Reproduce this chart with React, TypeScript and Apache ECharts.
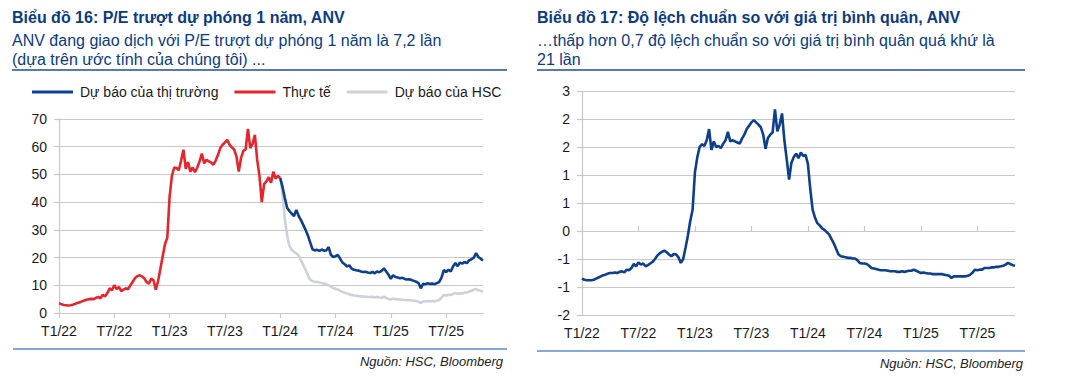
import React, { useEffect, useRef } from "react";
import * as echarts from "echarts";

// ---------- data ----------
const STEP = 0.25; // months between samples, month 0 = Jan 2022
const xTickMonths = [0, 6, 12, 18, 24, 30, 36, 42];
const xTickLabels = ["T1/22", "T7/22", "T1/23", "T7/23", "T1/24", "T7/24", "T1/25", "T7/25"];

const seriesNames = ["Dự báo của thị trường", "Thực tế", "Dự báo của HSC"];

const actualStart = 0;
const actualPE = [
  3.5, 3.2, 2.9, 2.8, 2.7, 2.8, 3.0, 3.3, 3.6, 3.9, 4.2, 4.5, 4.8, 5.0, 5.1, 5.0,
  5.4, 5.8, 5.3, 6.6, 6.0, 7.2, 8.9, 8.2, 10.1, 8.6, 9.4, 7.9, 8.4, 8.9, 8.6, 10.0,
  11.3, 12.6, 13.3, 13.6, 13.2, 12.5, 11.2, 10.6, 12.4, 11.8, 8.4, 11.5, 16.0, 20.5, 24.8, 27.2,
  42.0, 49.5, 52.5, 52.3, 51.5, 55.0, 58.9, 52.0, 54.5, 51.0, 52.5, 50.8, 52.5, 54.7, 57.5, 54.0,
  55.3, 54.7, 54.3, 53.5, 55.0, 57.1, 59.5, 60.7, 61.5, 62.5, 60.7, 59.8, 59.0, 56.5, 51.0, 56.0,
  58.5, 59.0, 66.4, 59.5, 61.0, 64.3, 55.3, 49.5, 40.0, 46.5, 47.5, 49.0, 47.0, 51.0, 48.5, 49.5,
  48.7,
];

const marketStart = 24;
const marketPE = [
  48.7, 45.5, 41.5, 38.0, 36.8, 35.8, 35.0, 37.2, 35.0, 33.5, 31.8, 30.0, 28.0, 25.5, 23.0, 22.6,
  22.8, 22.4, 22.9, 22.5, 22.6, 23.8, 21.0, 20.2, 20.5, 21.0, 19.6, 18.2, 17.6, 16.8, 17.2, 16.0,
  15.6, 15.4, 15.3, 15.0, 14.8, 14.9, 14.6, 14.4, 14.8, 14.3, 15.0, 14.7, 15.2, 16.1, 15.0, 13.8,
  12.3, 13.6, 13.0, 12.8, 12.5, 12.7, 12.3, 12.1, 12.2, 11.9, 11.6, 11.3, 10.8, 8.9, 10.5, 10.4,
  10.7, 10.5, 10.6, 10.4, 10.8, 11.2, 12.8, 15.5, 14.8, 15.6, 15.0, 16.8, 18.0, 16.9, 18.2, 17.8,
  18.4, 18.0, 19.0, 19.4, 20.0, 21.6, 20.2, 19.6, 18.9,
];

const hscStart = 24;
const hscPE = [
  48.7, 43.0, 34.0, 28.0, 24.2, 22.8, 22.0, 21.5, 20.8, 19.0, 17.3, 15.6, 13.6, 12.0, 11.5, 11.2,
  11.3, 11.0, 10.8, 10.6, 10.5, 10.0, 9.5, 9.0, 8.7, 8.5, 8.0, 7.6, 7.3, 7.0, 6.8, 6.5,
  6.3, 6.2, 6.1, 6.0, 5.9, 5.9, 5.8, 5.8, 5.9, 5.7, 5.8, 5.6, 5.5, 5.9, 5.4, 5.1,
  4.8, 5.2, 5.0, 4.9, 4.9, 4.8, 4.7, 4.6, 4.6, 4.5, 4.4, 4.3, 4.1, 3.6, 4.2, 4.2,
  4.3, 4.2, 4.3, 4.2, 4.4, 4.7, 5.5, 6.5, 6.3, 6.6, 6.5, 6.9, 7.2, 6.9, 7.1, 7.0,
  7.4, 7.4, 7.8, 8.0, 8.4, 8.7, 8.2, 8.0, 7.7,
];

const sdStart = 0;
const stdDev = [
  -0.85, -0.87, -0.88, -0.88, -0.88, -0.87, -0.85, -0.83, -0.81, -0.79, -0.78, -0.76, -0.75, -0.75, -0.74, -0.75,
  -0.73, -0.72, -0.74, -0.69, -0.70, -0.66, -0.59, -0.63, -0.56, -0.60, -0.58, -0.63, -0.61, -0.58, -0.55, -0.50,
  -0.44, -0.40, -0.37, -0.35, -0.38, -0.42, -0.45, -0.41, -0.42, -0.47, -0.57, -0.50, -0.30, -0.08, 0.18, 0.38,
  1.05, 1.32, 1.50, 1.55, 1.52, 1.62, 1.82, 1.45, 1.60, 1.50, 1.52, 1.48, 1.56, 1.62, 1.77, 1.60,
  1.62, 1.60, 1.58, 1.56, 1.65, 1.72, 1.82, 1.88, 1.94, 1.98, 1.94, 1.90, 1.85, 1.72, 1.47, 1.66,
  1.72, 1.76, 2.17, 1.78, 1.90, 2.10, 1.62, 1.28, 0.92, 1.22, 1.32, 1.38, 1.30, 1.40, 1.34, 1.36,
  1.20, 0.75, 0.38, 0.24, 0.14, 0.10, 0.05, 0.02, -0.02, -0.06, -0.14, -0.22, -0.32, -0.42, -0.45, -0.46,
  -0.47, -0.48, -0.48, -0.49, -0.49, -0.52, -0.57, -0.58, -0.58, -0.59, -0.62, -0.66, -0.67, -0.68, -0.69, -0.70,
  -0.70, -0.70, -0.71, -0.72, -0.72, -0.72, -0.73, -0.73, -0.72, -0.73, -0.72, -0.71, -0.71, -0.69, -0.71, -0.73,
  -0.75, -0.74, -0.75, -0.76, -0.76, -0.77, -0.77, -0.77, -0.77, -0.77, -0.78, -0.79, -0.80, -0.84, -0.81, -0.81,
  -0.81, -0.81, -0.81, -0.81, -0.80, -0.78, -0.74, -0.69, -0.70, -0.69, -0.69, -0.66, -0.66, -0.66, -0.65, -0.65,
  -0.64, -0.64, -0.63, -0.62, -0.60, -0.57, -0.59, -0.61, -0.62,
];

// ---------- styles ----------
const FONT = "'Liberation Sans', Arial, sans-serif";
const NAVY = "#0b3b80";
const BLUE = "#0d3f8c";
const RED = "#e5252d";
const GREY = "#cdd1d9";
const GRID = "#c8c8c8";
const LABEL = "#1a1a1a";

const build = (start: number, vals: number[]) => vals.map((v, i) => [start + i * STEP, v]);

const excelRound = (v: number) => {
  const r = Math.sign(v) * Math.round(Math.abs(v) + 1e-9);
  return r === 0 ? "0" : String(r);
};

const tickLabel = (v: number) => {
  const i = xTickMonths.indexOf(Math.round(v * 100) / 100);
  return i >= 0 ? xTickLabels[i] : "";
};

const textEl = (x: number, y: number, text: string, font: string, fill: string, align = "left") => ({
  type: "text",
  x,
  y,
  style: { text, font, fill, textAlign: align, textVerticalAlign: "middle" },
});

const lineEl = (x1: number, y1: number, x2: number, y2: number, stroke: string) => ({
  type: "line",
  shape: { x1, y1, x2, y2 },
  style: { stroke, lineWidth: 1.5 },
});

export default function App() {
  const ref = useRef<HTMLDivElement>(null);

  useEffect(() => {
    document.body.style.margin = "0";
    const chart = echarts.init(ref.current!, undefined, { renderer: "svg" });

    const xCommon = (gridIndex: number) => ({
      type: "value",
      gridIndex,
      min: 0,
      max: 46,
      interval: 6,
      splitLine: { show: false },
      axisLine: { show: true, onZero: true, lineStyle: { color: GRID, width: 1.2 } },
      axisTick: { show: true, length: 5, customValues: xTickMonths, lineStyle: { color: GRID, width: 1.2 } },
      axisLabel: {
        show: true,
        customValues: xTickMonths,
        formatter: tickLabel,
        color: LABEL,
        fontSize: 14,
        fontFamily: FONT,
        margin: 11,
      },
    });

    const yCommon = (gridIndex: number) => ({
      type: "value",
      gridIndex,
      axisLine: { show: true, lineStyle: { color: GRID, width: 1.2 } },
      axisTick: { show: true, length: 5, lineStyle: { color: GRID, width: 1.2 } },
      splitLine: { show: true, lineStyle: { color: GRID, width: 1.2 } },
      axisLabel: { color: LABEL, fontSize: 14, fontFamily: FONT, margin: 12 },
    });

    const lineSeries = (name: string, data: number[][], color: string, xAxisIndex: number, yAxisIndex: number, z: number) => ({
      type: "line",
      name,
      data,
      xAxisIndex,
      yAxisIndex,
      symbol: "none",
      showSymbol: false,
      z,
      lineStyle: { color, width: 2.6 },
      itemStyle: { color },
    });

    const rightLabelsAxis = {
      ...xCommon(1),
      axisLine: { show: false, onZero: false },
      axisTick: { show: false },
    };
    const rightZeroAxis = {
      ...xCommon(1),
      axisLabel: { show: false },
    };

    chart.setOption({
      animation: false,
      backgroundColor: "#ffffff",
      textStyle: { fontFamily: FONT },
      legend: {
        left: 27,
        top: 80,
        icon: "rect",
        itemWidth: 41,
        itemHeight: 3,
        itemGap: 16,
        data: seriesNames,
        textStyle: { color: LABEL, fontSize: 14, fontFamily: FONT, padding: [0, 0, 0, 2] },
      },
      grid: [
        { left: 59, top: 119, width: 424, height: 194 },
        { left: 582, top: 91, width: 433, height: 224 },
      ],
      xAxis: [xCommon(0), rightLabelsAxis, rightZeroAxis],
      yAxis: [
        { ...yCommon(0), min: 0, max: 70, interval: 10 },
        {
          ...yCommon(1),
          min: -1.5,
          max: 2.5,
          interval: 0.5,
          axisLabel: { ...yCommon(1).axisLabel, formatter: (v: number) => excelRound(v) },
        },
      ],
      series: [
        lineSeries(seriesNames[0], build(marketStart, marketPE), BLUE, 0, 0, 4),
        lineSeries(seriesNames[1], build(actualStart, actualPE), RED, 0, 0, 3),
        lineSeries(seriesNames[2], build(hscStart, hscPE), GREY, 0, 0, 2),
        lineSeries("Độ lệch chuẩn", build(sdStart, stdDev), BLUE, 2, 1, 4),
      ],
      graphic: [
        textEl(12, 17, "Biểu đồ 16: P/E trượt dự phóng 1 năm, ANV", `bold 16px ${FONT}`, NAVY),
        textEl(12, 40, "ANV đang giao dịch với P/E trượt dự phóng 1 năm là 7,2 lần", `16px ${FONT}`, NAVY),
        textEl(12, 59, "(dựa trên ước tính của chúng tôi) ...", `16px ${FONT}`, NAVY),
        lineEl(12, 70, 507, 70, "#1f4f94"),
        lineEl(13, 349, 507, 349, "#5b8cc8"),
        textEl(503, 361, "Nguồn: HSC, Bloomberg", `italic 13px ${FONT}`, "#222222", "right"),

        textEl(537, 17, "Biểu đồ 17: Độ lệch chuẩn so với giá trị bình quân, ANV", `bold 16px ${FONT}`, NAVY),
        textEl(537, 40, "…thấp hơn 0,7 độ lệch chuẩn so với giá trị bình quân quá khứ là", `16px ${FONT}`, NAVY),
        textEl(537, 59, "21 lần", `16px ${FONT}`, NAVY),
        lineEl(537, 70, 1025, 70, "#1f4f94"),
        lineEl(537, 351, 1025, 351, "#5b8cc8"),
        textEl(1023, 363, "Nguồn: HSC, Bloomberg", `italic 13px ${FONT}`, "#222222", "right"),
      ],
    });

    return () => chart.dispose();
  }, []);

  return <div ref={ref} style={{ width: 1068, height: 377 }} />;
}
